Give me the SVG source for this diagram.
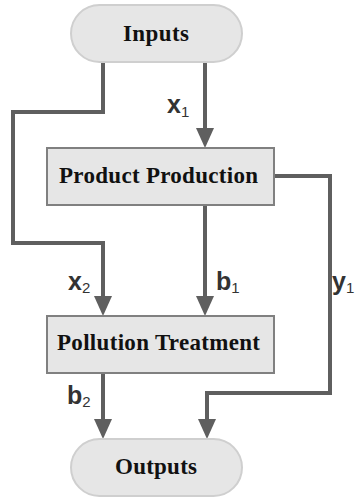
<svg xmlns="http://www.w3.org/2000/svg" width="363" height="498" viewBox="0 0 363 498">
<style>
.pill{fill:#e6e6e6;stroke:#cfcfcf;stroke-width:2}
.box{fill:#e6e6e6;stroke:#808080;stroke-width:2}
.t{font-family:"Liberation Serif","DejaVu Serif",serif;font-weight:bold;font-size:23px;fill:#111}
.c{fill:none;stroke:#5f5f5f;stroke-width:4}
.lab{font-family:"Liberation Sans",Arial,sans-serif;font-weight:bold;font-size:25px;fill:#333}
.sub{font-size:15px;font-weight:normal}
</style>
<defs>
<marker id="ah" viewBox="0 0 20 18" refX="0" refY="9" markerWidth="20" markerHeight="18" markerUnits="userSpaceOnUse" orient="auto">
<path d="M0,0 L20,9 L0,18 z" fill="#5f5f5f"/>
</marker>
</defs>
<g id="connectors">
<path class="c" d="M103,62 V112 H13 V243 H103 V296" marker-end="url(#ah)"/>
<path class="c" d="M205,62 V128" marker-end="url(#ah)"/>
<path class="c" d="M205,205 V296" marker-end="url(#ah)"/>
<path class="c" d="M274,176 H330 V393 H207 V419" marker-end="url(#ah)"/>
<path class="c" d="M103,373 V419" marker-end="url(#ah)"/>
<text class="lab" x="167" y="113">x<tspan class="sub" dy="3.5">1</tspan></text>
<text class="lab" x="68" y="290">x<tspan class="sub" dy="3">2</tspan></text>
<text class="lab" x="216" y="290">b<tspan class="sub" dy="3">1</tspan></text>
<text class="lab" x="332" y="290">y<tspan class="sub" dy="3">1</tspan></text>
<text class="lab" x="67" y="404">b<tspan class="sub" dy="3">2</tspan></text>
</g>
<g id="inputs">
<rect class="pill" x="71" y="5" width="171" height="57" rx="28.5"/>
<text class="t" x="123" y="41" textLength="66">Inputs</text>
</g>
<g id="product-production">
<rect class="box" x="47" y="148" width="227" height="57"/>
<text class="t" x="59" y="183" textLength="199">Product Production</text>
</g>
<g id="pollution-treatment">
<rect class="box" x="47" y="316" width="227" height="57"/>
<text class="t" x="57" y="350" textLength="203">Pollution Treatment</text>
</g>
<g id="outputs">
<rect class="pill" x="71" y="439" width="171" height="57" rx="28.5"/>
<text class="t" x="115" y="474" textLength="82">Outputs</text>
</g>
</svg>
